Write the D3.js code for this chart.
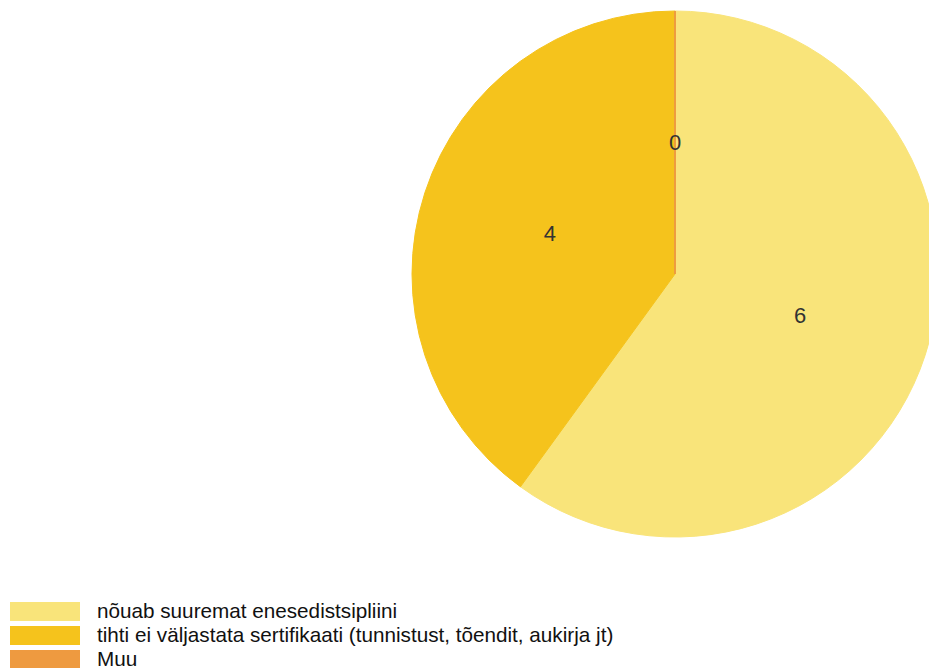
<!DOCTYPE html>
<html><head><meta charset="utf-8">
<script src="https://cdn.jsdelivr.net/npm/d3@7"></script>
<style>html,body{margin:0;padding:0;background:#fff;overflow:hidden}</style>
</head><body>
<svg id="c" width="929" height="668"></svg>
<script>
const categories = ["nõuab suuremat enesedistsipliini", "tihti ei väljastata sertifikaati (tunnistust, tõendit, aukirja jt)", "Muu"];
const values = [6, 4, 0];
const colors = ["#F9E47A", "#F5C31C", "#EE9A40"];

const svg = d3.select("#c");
const cx = 675, cy = 274, r = 263;
const pie = d3.pie().sort(null).value(d => d)(values);
const arc = d3.arc().innerRadius(0).outerRadius(r);
const labelArc = d3.arc().innerRadius(r/2).outerRadius(r/2);
const g = svg.append("g").attr("transform", `translate(${cx},${cy})`);
g.selectAll("path.s").data(pie).enter().append("path")
  .attr("class","s")
  .attr("d", arc)
  .attr("fill", (d,i) => colors[i])
  .attr("stroke", (d,i) => colors[i])
  .attr("stroke-width", 1);
// zero-value slice drawn as a thin line
pie.forEach((d,i) => {
  if (d.value === 0) {
    const a = d.startAngle;
    g.append("line").attr("x1",0).attr("y1",0)
      .attr("x2", r*Math.sin(a)).attr("y2", -r*Math.cos(a))
      .attr("stroke", colors[i]).attr("stroke-width", 1.5);
  }
});
g.selectAll("text.l").data(pie).enter().append("text")
  .attr("class","l")
  .attr("transform", d => `translate(${labelArc.centroid(d)})`)
  .attr("text-anchor","middle").attr("dy","0.36em")
  .attr("font-family","Liberation Sans, Arial, sans-serif")
  .attr("font-size", 22).attr("fill","#333")
  .text(d => d.value);

const lg = svg.append("g");
categories.forEach((c,i) => {
  const y = 602 + i*24;
  lg.append("rect").attr("x",10).attr("y",y).attr("width",70).attr("height",19).attr("fill",colors[i]);
  lg.append("text").attr("x",97).attr("y",y+16)
    .attr("font-family","Liberation Sans, Arial, sans-serif")
    .attr("font-size",20.7).attr("fill","#111").text(c);
});
</script>
</body></html>
